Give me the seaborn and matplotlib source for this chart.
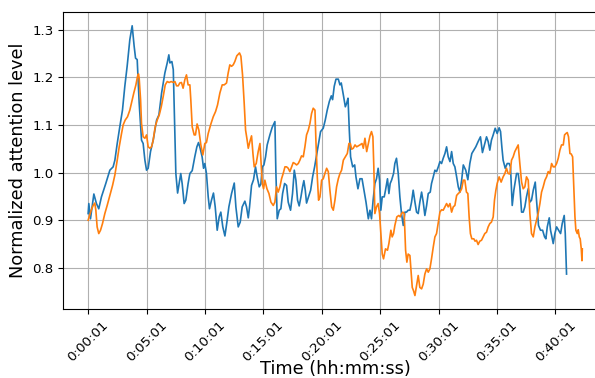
import datetime
import pandas as pd
import matplotlib
matplotlib.use("Agg")
import matplotlib.pyplot as plt
import seaborn as sns

# Values (time in minutes from 0:00:01, normalized level)
blue_min = [0, 0.06, 0.2, 0.49, 0.71, 0.91, 1.14, 1.51, 1.86, 2.14, 2.29, 2.49, 2.71, 2.94,
            3.14, 3.34, 3.57, 3.77, 3.94, 4.06, 4.2, 4.37, 4.57, 4.71, 4.86, 5.0, 5.14, 5.34,
            5.57, 5.86, 6.06, 6.29, 6.57, 6.77, 6.91, 7.0, 7.17, 7.29, 7.4, 7.51, 7.66, 7.93,
            8.05, 8.22, 8.36, 8.56, 8.71, 8.91, 9.13, 9.31, 9.45, 9.59, 9.76, 9.88, 9.99, 10.13,
            10.28, 10.39, 10.56, 10.73, 10.88, 11.05, 11.22, 11.36, 11.53, 11.71, 11.88, 12.05,
            12.28, 12.51, 12.65, 12.85, 13.02, 13.19, 13.42, 13.56, 13.71, 13.82, 13.99, 14.16,
            14.33, 14.48, 14.65, 14.79, 14.91, 15.05, 15.19, 15.33, 15.56, 15.76, 15.99, 16.07,
            16.19, 16.36, 16.5, 16.65, 16.82, 16.99, 17.13, 17.33, 17.5, 17.65, 17.79, 17.93,
            18.07, 18.22, 18.36, 18.47, 18.59, 18.7, 18.87, 19.05, 19.22, 19.39, 19.56, 19.73,
            19.9, 20.13, 20.3, 20.47, 20.65, 20.82, 20.93, 21.07, 21.22, 21.42, 21.56, 21.67,
            21.85, 22.02, 22.13, 22.25, 22.36, 22.47, 22.65, 22.82, 22.93, 23.1, 23.27, 23.45,
            23.62, 23.79, 23.99, 24.13, 24.26, 24.4, 24.55, 24.69, 24.83, 24.95, 25.06, 25.18,
            25.35, 25.46, 25.63, 25.75, 25.86, 25.98, 26.15, 26.26, 26.4, 26.55, 26.69, 26.83,
            26.98, 27.12, 27.26, 27.4, 27.55, 27.69, 27.83, 27.98, 28.12, 28.26, 28.4, 28.55,
            28.69, 28.83, 28.98, 29.12, 29.29, 29.4, 29.55, 29.69, 29.83, 29.98, 30.12, 30.26,
            30.4, 30.55, 30.69, 30.83, 30.98, 31.12, 31.26, 31.4, 31.55, 31.69, 31.83, 31.98,
            32.12, 32.33, 32.51, 32.68, 32.85, 33.02, 33.19, 33.39, 33.59, 33.76, 33.93, 34.11,
            34.25, 34.39, 34.53, 34.68, 34.85, 35.02, 35.19, 35.31, 35.42, 35.53, 35.71, 35.88,
            36.05, 36.16, 36.31, 36.45, 36.68, 36.82, 36.96, 37.11, 37.25, 37.39, 37.53, 37.68,
            37.82, 37.96, 38.11, 38.28, 38.39, 38.56, 38.73, 38.91, 39.08, 39.19, 39.31, 39.48,
            39.59, 39.71, 39.82, 39.96, 40.11, 40.28, 40.45, 40.59, 40.76, 40.85, 40.96]
blue_val = [0.914, 0.935, 0.903, 0.955, 0.935, 0.924, 0.949, 0.977, 1.005, 1.012, 1.026, 1.061,
            1.096, 1.131, 1.181, 1.223, 1.279, 1.308, 1.265, 1.24, 1.237, 1.146, 1.068, 1.061,
            1.026, 1.005, 1.009, 1.044, 1.068, 1.11, 1.121, 1.167, 1.209, 1.23, 1.247, 1.23,
            1.233, 1.216, 1.11, 0.998, 0.957, 0.998, 0.977, 0.935, 0.942, 0.977, 0.998, 1.004,
            1.033, 1.054, 1.063, 1.051, 1.033, 1.009, 1.019, 0.998, 0.949, 0.924, 0.942, 0.957,
            0.928, 0.879, 0.907, 0.917, 0.886, 0.867, 0.896, 0.928, 0.956, 0.978, 0.928, 0.886,
            0.896, 0.928, 0.94, 0.928, 0.905, 0.928, 0.973, 0.985, 1.012, 0.99, 0.97, 0.976,
            1.012, 1.016, 1.033, 1.058, 1.079, 1.095, 1.107, 1.005, 0.903, 0.921, 0.924, 0.956,
            0.977, 0.973, 0.938, 0.921, 0.956, 1.005, 0.984, 0.942, 0.93, 0.949, 0.97, 0.983,
            0.963, 0.936, 0.949, 0.963, 0.991, 1.012, 1.037, 1.061, 1.086, 1.093, 1.11, 1.131,
            1.149, 1.161, 1.153, 1.181, 1.196, 1.196, 1.184, 1.188, 1.163, 1.138, 1.145, 1.156,
            1.089, 1.033, 1.012, 1.016, 0.991, 0.966, 0.987, 0.987, 0.963, 0.938, 0.903, 0.921,
            0.903, 0.942, 0.977, 0.987, 1.009, 0.984, 0.921, 0.949, 0.949, 0.963, 0.987, 0.956,
            0.977, 0.984, 0.998, 1.019, 1.03, 0.998, 0.949, 0.914, 0.889, 0.917, 0.917, 0.921,
            0.921, 0.938, 0.963, 0.938, 0.917, 0.914, 0.938, 0.959, 0.938, 0.91, 0.931, 0.956,
            0.959, 0.977, 0.991, 1.005, 1.002, 1.012, 1.023, 1.019, 1.03, 1.04, 1.054, 1.033,
            1.023, 1.044, 1.019, 1.012, 0.991, 0.97, 0.959, 0.984, 1.016, 1.005, 0.985, 1.019,
            1.04, 1.047, 1.054, 1.065, 1.075, 1.042, 1.058, 1.075, 1.065, 1.047, 1.068, 1.079,
            1.093, 1.082, 1.094, 1.086, 1.054, 1.026, 1.009, 1.019, 1.019, 1.012, 0.931, 0.963,
            0.998, 0.998, 0.97, 0.917, 0.917, 0.928, 0.949, 0.966, 0.938, 0.942, 0.963, 0.98,
            0.942, 0.889, 0.879, 0.879, 0.865, 0.861, 0.886, 0.905, 0.879, 0.865, 0.851, 0.872,
            0.886, 0.879, 0.872, 0.893, 0.91, 0.872, 0.787]

orange_min = [0, 0.09, 0.26, 0.43, 0.57, 0.66, 0.77, 0.91, 1.06, 1.23, 1.43, 1.63, 1.86, 2.09,
              2.29, 2.49, 2.66, 2.86, 3.0, 3.17, 3.37, 3.57, 3.74, 3.91, 4.09, 4.23, 4.31, 4.37,
              4.49, 4.57, 4.71, 4.86, 5.0, 5.14, 5.29, 5.43, 5.57, 5.74, 5.91, 6.09, 6.26, 6.43,
              6.6, 6.77, 6.94, 7.11, 7.29, 7.43, 7.57, 7.71, 7.85, 7.99, 8.13, 8.28, 8.42, 8.56,
              8.71, 8.79, 8.91, 9.08, 9.19, 9.33, 9.48, 9.65, 9.82, 9.99, 10.13, 10.28, 10.51,
              10.71, 10.91, 11.08, 11.28, 11.48, 11.65, 11.85, 11.99, 12.13, 12.28, 12.42, 12.56,
              12.73, 12.96, 13.08, 13.22, 13.36, 13.48, 13.59, 13.71, 13.85, 13.99, 14.11, 14.22,
              14.39, 14.56, 14.71, 14.79, 14.91, 15.02, 15.13, 15.31, 15.48, 15.65, 15.85, 15.99,
              16.13, 16.27, 16.42, 16.56, 16.7, 16.85, 16.99, 17.13, 17.27, 17.42, 17.56, 17.7,
              17.85, 17.99, 18.13, 18.27, 18.42, 18.56, 18.7, 18.85, 18.99, 19.13, 19.27, 19.42,
              19.5, 19.62, 19.73, 19.85, 19.99, 20.13, 20.27, 20.42, 20.56, 20.7, 20.85, 20.99,
              21.13, 21.27, 21.42, 21.56, 21.7, 21.85, 22.02, 22.19, 22.33, 22.45, 22.56, 22.7,
              22.85, 22.99, 23.13, 23.27, 23.45, 23.56, 23.7, 23.85, 23.99, 24.13, 24.26, 24.38,
              24.46, 24.55, 24.69, 24.83, 24.95, 25.06, 25.18, 25.29, 25.46, 25.63, 25.75, 25.92,
              26.03, 26.15, 26.26, 26.43, 26.6, 26.72, 26.83, 26.95, 27.06, 27.18, 27.29, 27.4,
              27.55, 27.63, 27.75, 27.86, 27.98, 28.12, 28.26, 28.4, 28.55, 28.69, 28.83, 28.98,
              29.12, 29.26, 29.4, 29.55, 29.69, 29.83, 29.98, 30.12, 30.26, 30.4, 30.55, 30.69,
              30.83, 30.98, 31.12, 31.26, 31.4, 31.55, 31.69, 31.83, 31.98, 32.12, 32.25, 32.39,
              32.51, 32.62, 32.73, 32.85, 33.02, 33.13, 33.25, 33.39, 33.53, 33.68, 33.82, 33.96,
              34.11, 34.25, 34.39, 34.53, 34.68, 34.79, 34.91, 35.02, 35.19, 35.36, 35.53, 35.68,
              35.82, 35.96, 36.11, 36.25, 36.39, 36.53, 36.68, 36.82, 36.96, 37.11, 37.25, 37.39,
              37.53, 37.68, 37.82, 37.96, 38.11, 38.25, 38.39, 38.53, 38.68, 38.82, 38.96, 39.11,
              39.25, 39.39, 39.53, 39.68, 39.82, 39.96, 40.11, 40.25, 40.39, 40.53, 40.68, 40.79,
              40.91, 41.02, 41.13, 41.25, 41.36, 41.48, 41.59, 41.68, 41.76, 41.88, 41.96, 42.05,
              42.13, 42.22, 42.28, 42.31]
orange_val = [0.9, 0.907, 0.921, 0.931, 0.936, 0.921, 0.886, 0.872, 0.879, 0.893, 0.914, 0.931,
              0.952, 0.973, 0.995, 1.026, 1.054, 1.082, 1.1, 1.11, 1.117, 1.131, 1.149, 1.167,
              1.184, 1.202, 1.207, 1.198, 1.153, 1.103, 1.075, 1.072, 1.079, 1.054, 1.051, 1.054,
              1.068, 1.096, 1.11, 1.121, 1.138, 1.16, 1.184, 1.191, 1.189, 1.191, 1.189, 1.191,
              1.182, 1.182, 1.188, 1.189, 1.177, 1.195, 1.205, 1.184, 1.184, 1.153, 1.096, 1.079,
              1.079, 1.102, 1.089, 1.058, 1.037, 1.061, 1.063, 1.082, 1.102, 1.117, 1.128, 1.142,
              1.167, 1.184, 1.184, 1.188, 1.209, 1.226, 1.223, 1.226, 1.233, 1.245, 1.251, 1.244,
              1.205, 1.146, 1.089, 1.072, 1.051, 1.065, 1.077, 1.04, 1.012, 1.019, 1.044, 1.061,
              1.026, 0.977, 0.966, 0.984, 0.966, 0.956, 0.938, 0.931, 0.938, 0.97, 0.959, 0.97,
              0.987, 0.998, 1.012, 1.012, 1.009, 1.002, 1.012, 1.021, 1.019, 1.016, 1.019, 1.026,
              1.035, 1.033, 1.054, 1.079, 1.089, 1.103, 1.124, 1.135, 1.131, 1.068, 0.991, 0.942,
              0.949, 0.984, 0.987, 0.998, 1.009, 1.002, 0.963, 0.928, 0.921, 0.942, 0.97, 0.987,
              0.998, 1.005, 1.026, 1.033, 1.04, 1.061, 1.061, 1.049, 1.051, 1.058, 1.054, 1.056,
              1.058, 1.061, 1.051, 1.072, 1.044, 1.061, 1.077, 1.086, 1.075, 1.012, 0.914, 0.928,
              0.935, 0.914, 0.872, 0.829, 0.819, 0.84, 0.837, 0.851, 0.879, 0.865, 0.872, 0.889,
              0.907, 0.91, 0.907, 0.914, 0.917, 0.914, 0.837, 0.812, 0.829, 0.826, 0.798, 0.759,
              0.752, 0.742, 0.763, 0.784, 0.759, 0.756, 0.766, 0.787, 0.798, 0.791, 0.798, 0.819,
              0.844, 0.865, 0.872, 0.896, 0.917, 0.922, 0.921, 0.928, 0.935, 0.928, 0.935, 0.917,
              0.928, 0.931, 0.952, 0.956, 0.959, 0.966, 0.984, 0.984, 0.959, 0.956, 0.907, 0.872,
              0.861, 0.861, 0.856, 0.858, 0.849, 0.856, 0.858, 0.865, 0.872, 0.875, 0.886, 0.893,
              0.896, 0.907, 0.942, 0.963, 0.977, 0.991, 0.98, 0.991, 0.998, 1.009, 0.998, 0.997,
              1.026, 1.033, 1.044, 1.051, 1.058, 1.019, 0.98, 0.966, 0.97, 0.991, 0.984, 0.914,
              0.872, 0.865, 0.886, 0.9, 0.914, 0.935, 0.959, 0.97, 0.984, 0.991, 1.002, 0.998,
              1.019, 1.012, 1.012, 1.019, 1.03, 1.047, 1.058, 1.058, 1.079, 1.082, 1.084, 1.075,
              1.04, 1.039, 1.033, 0.963, 0.907, 0.879, 0.872, 0.88, 0.865, 0.861, 0.84, 0.815,
              0.84]

tick_seconds = [1, 301, 601, 901, 1201, 1501, 1801, 2101, 2401]

blue = pd.DataFrame({"sec": [1 + m * 60 for m in blue_min], "level": blue_val})
orange = pd.DataFrame({"sec": [1 + m * 60 for m in orange_min], "level": orange_val})

fig = plt.figure(figsize=(5.95, 3.78), dpi=100)
# axes runs past the right edge, as in the (cropped) reference
ax = fig.add_axes([0.1066, 0.1825, 0.9136, 0.785])

sns.lineplot(data=blue, x="sec", y="level", color="#1f77b4", linewidth=1.2, ax=ax)
sns.lineplot(data=orange, x="sec", y="level", color="#ff7f0e", linewidth=1.2, ax=ax)

ax.set_xticks(tick_seconds)
ax.set_xticklabels([str(datetime.timedelta(seconds=s)) for s in tick_seconds],
                   rotation=45, fontsize=9.6)
ax.tick_params(axis="y", labelsize=9.6)
ax.set_xlabel("Time (hh:mm:ss)", fontsize=12.8)
ax.set_ylabel("Normalized attention level", fontsize=12.8)
ax.xaxis.set_label_coords(0.5, -0.172)
ax.grid(True, color="#b0b0b0", linewidth=0.8)
ax.set_axisbelow(True)

fig.savefig("out.png", dpi=100)
